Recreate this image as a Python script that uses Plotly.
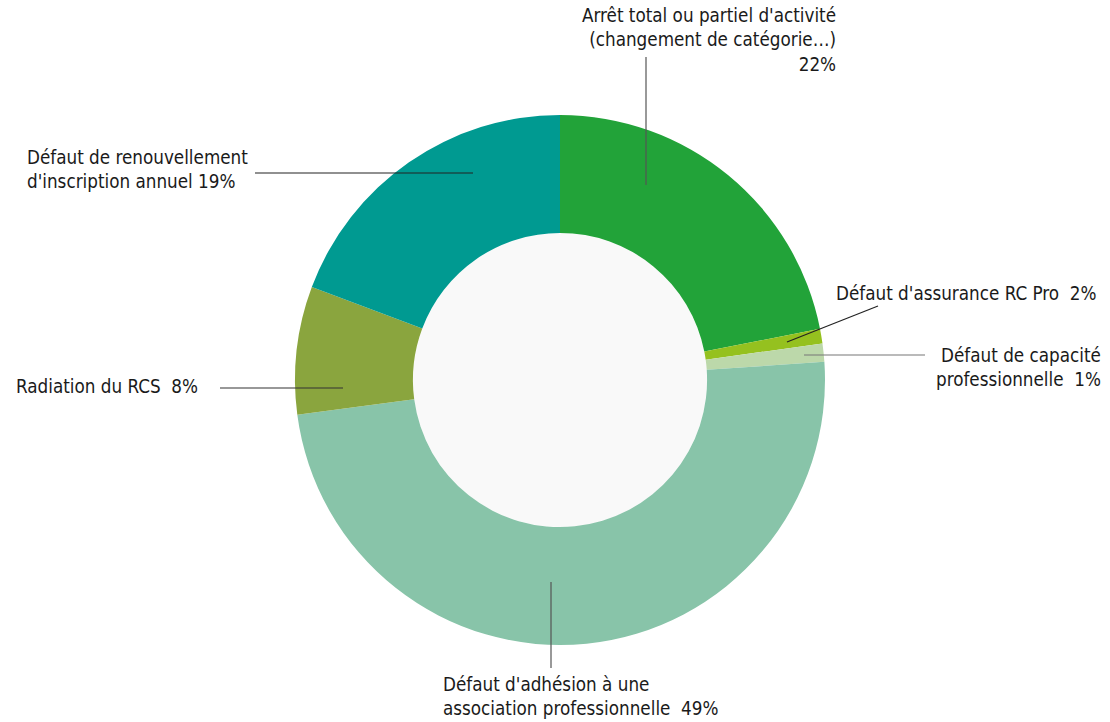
import plotly.graph_objects as go

# ---- data ----
categories = [
    "Arrêt total ou partiel d'activité (changement de catégorie…)",
    "Défaut d'assurance RC Pro",
    "Défaut de capacité professionnelle",
    "Défaut d'adhésion à une association professionnelle",
    "Radiation du RCS",
    "Défaut de renouvellement d'inscription annuel",
]
values = [21.9, 0.9, 1.1, 49.0, 7.8, 19.3]
pct_labels = ["22%", "2%", "1%", "49%", "8%", "19%"]
colors = ["#22a339", "#95c11f", "#bcd8aa", "#88c4a9", "#8aa53e", "#009a91"]

W, H = 1110, 722
CX, CY, R = 560, 380, 265
HOLE = 0.555

def px(x):
    return x / W

def py(y):
    return 1 - y / H

fig = go.Figure()
fig.add_trace(go.Pie(
    labels=categories,
    values=values,
    marker=dict(colors=colors, line=dict(width=0)),
    hole=HOLE,
    sort=False,
    direction="clockwise",
    rotation=0,
    textinfo="none",
    hoverinfo="label+value",
    domain=dict(x=[px(CX - R), px(CX + R)], y=[py(CY + R), py(CY - R)]),
    showlegend=False,
))

# light grey hole
ri = R * HOLE
shapes = [dict(type="circle", xref="paper", yref="paper",
               x0=px(CX - ri), x1=px(CX + ri), y0=py(CY + ri), y1=py(CY - ri),
               fillcolor="#f9f9f9", line=dict(width=0), layer="below")]

# leader lines (layout positions in pixels)
leaders = [
    ((646, 185), (646, 57), "#555555"),
    ((787, 342), (878, 306), "#222222"),
    ((804, 355), (925, 355), "#777777"),
    ((551, 582), (551, 668), "#555555"),
    ((220, 388), (343, 388), "#333333"),
    ((255, 173), (473, 173), "#222222"),
]
for (x0, y0), (x1, y1), c in leaders:
    shapes.append(dict(type="line", xref="paper", yref="paper",
                       x0=px(x0), y0=py(y0), x1=px(x1), y1=py(y1),
                       line=dict(color=c, width=1.2)))

FONT = dict(family="Liberation Sans Narrow, DejaVu Sans Condensed, Arial Narrow, sans-serif",
            size=18.7, color="#1a1a1a")

texts = [
    ("Arrêt total ou partiel d'activité<br>(changement de catégorie…)<br>" + pct_labels[0],
     838, 40, "right", "right"),
    ("Défaut d'assurance RC Pro  " + pct_labels[1], 1098, 293, "left", "right"),
    ("Défaut de capacité<br>professionnelle  " + pct_labels[2], 1103, 367, "right", "right"),
    ("Défaut d'adhésion à une<br>association professionnelle  " + pct_labels[3], 441, 696, "left", "left"),
    ("Radiation du RCS  " + pct_labels[4], 14, 386, "left", "left"),
    ("Défaut de renouvellement<br>d'inscription annuel " + pct_labels[5], 25, 170, "left", "left"),
]
annotations = []
for t, x, y, align, xanchor in texts:
    annotations.append(dict(text=t, x=px(x), y=py(y), xref="paper", yref="paper",
                            xanchor="right" if xanchor == "right" else "left",
                            yanchor="middle", align=align, showarrow=False, font=FONT))

fig.update_layout(
    width=W, height=H,
    margin=dict(l=0, r=0, t=0, b=0),
    paper_bgcolor="white",
    plot_bgcolor="white",
    shapes=shapes,
    annotations=annotations,
)

fig.write_html("out.html",
               config={"displayModeBar": False},
               post_script="document.body.style.margin='0';document.body.style.overflow='hidden';")
